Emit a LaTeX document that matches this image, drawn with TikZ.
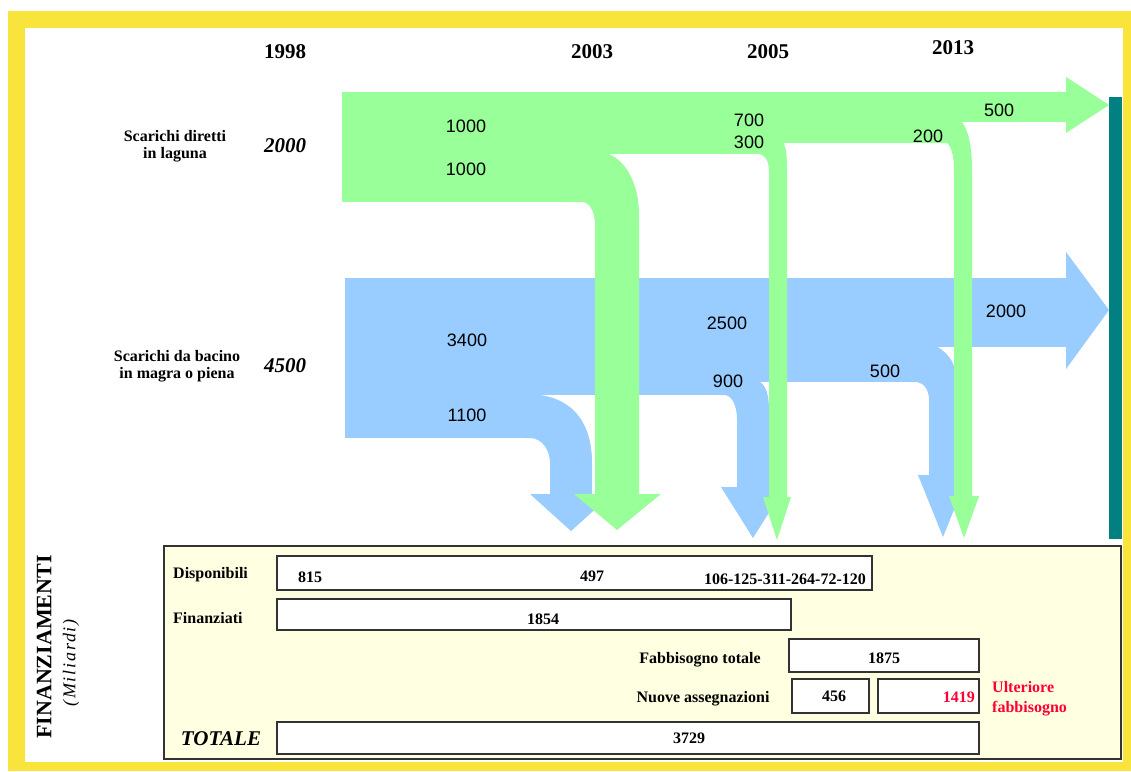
\documentclass[tikz,border=0pt]{standalone}
\usepackage{fontspec}
\setmainfont{Liberation Serif}
\newfontfamily\sansf{Liberation Sans}
\definecolor{frameyellow}{HTML}{F9E43B}
\definecolor{flowgreen}{HTML}{99FF99}
\definecolor{flowblue}{HTML}{99CCFF}
\definecolor{tealbar}{HTML}{008080}
\definecolor{panelbg}{HTML}{FFFFE2}
\definecolor{boxline}{HTML}{333333}
\definecolor{alertred}{HTML}{FF0033}
\begin{document}
\begin{tikzpicture}[x=1pt,y=-1pt,
  num/.style={font=\sansf\fontsize{18}{20}\selectfont, inner sep=0pt},
  yr/.style={font=\bfseries\fontsize{21}{23}\selectfont, inner sep=0pt},
  src/.style={font=\bfseries\fontsize{16}{17}\selectfont, align=center, inner sep=0pt},
  tot/.style={font=\bfseries\itshape\fontsize{21}{23}\selectfont, inner sep=0pt},
  lab/.style={font=\bfseries\fontsize{16}{20}\selectfont, inner sep=0pt},
  val/.style={font=\bfseries\fontsize{16}{18}\selectfont, inner sep=0pt},
  cell/.style={draw=boxline, fill=white, line width=1.2pt},
  gflow/.style={fill=flowgreen},
  bflow/.style={fill=flowblue}]

\useasboundingbox (0,0) rectangle (1131,771);
\fill[white] (0,0) rectangle (1131,771);
\fill[frameyellow] (8,11) rectangle (1131,771);
\fill[white] (25,28) rectangle (1123,762);

% blue flows
\fill[bflow] (345,278) rectangle (1067,347);
\fill[bflow] (1066,252) -- (1109,310) -- (1066,369) -- cycle;
\fill[bflow] (345,278) rectangle (930,382);
\fill[bflow] (345,278) rectangle (740,395);
\fill[bflow] (345,278) rectangle (531,438);
\fill[bflow] (525,395) -- (540,395) .. controls (575,400) and (592,425) .. (592,463) -- (592,494) -- (612,494) -- (571,531) -- (530,494) -- (550,494) -- (550,463) .. controls (550,450) and (542,438) .. (530,438) -- (525,438) -- cycle;
\fill[bflow] (720,382) -- (760,382) .. controls (766,386) and (769,395) .. (769,410) -- (769,487) -- (785,487) -- (753,538) -- (721,487) -- (737,487) -- (737,420) .. controls (737,405) and (732,396) .. (725,395) -- (720,395) -- cycle;
\fill[bflow] (910,347) -- (938,347) .. controls (950,355) and (957,365) .. (957,385) -- (957,475) -- (968,475) -- (943,537) -- (918,475) -- (929,475) -- (929,400) .. controls (929,390) and (924,383) .. (917,382) -- (910,382) -- cycle;

% green flows
\fill[gflow] (342,92) rectangle (1067,122);
\fill[gflow] (1066,77) -- (1109,105) -- (1066,133) -- cycle;
\fill[gflow] (342,92) rectangle (962,143);
\fill[gflow] (342,92) rectangle (784,154);
\fill[gflow] (342,92) rectangle (584,202);
\fill[gflow] (575,154) -- (609,154) .. controls (627,162) and (639,185) .. (639,215) -- (639,494) -- (661,494) -- (617,530) -- (574,494) -- (595,494) -- (595,225) .. controls (595,212) and (590,203) .. (583,202) -- (575,202) -- cycle;
\fill[gflow] (755,143) -- (783,143) .. controls (786,146) and (787,155) .. (787,172) -- (787,497) -- (791,497) -- (777,540) -- (763,497) -- (769,497) -- (769,172) .. controls (769,162) and (766,156) .. (760,154) -- (755,154) -- cycle;
\fill[gflow] (940,122) -- (962,122) .. controls (968,130) and (972,145) .. (972,170) -- (972,496) -- (979,496) -- (964,538) -- (949,496) -- (954,496) -- (954,170) .. controls (954,155) and (951,146) .. (947,143) -- (940,143) -- cycle;

\fill[tealbar] (1109,97) rectangle (1122,539);

% years and sources
\node[yr] (y1998) at (285,52) {1998};
\node[yr] (y2003) at (592,52) {2003};
\node[yr] (y2005) at (768,52) {2005};
\node[yr] (y2013) at (953,48) {2013};
\node[src] (sdir) at (175,146) {Scarichi diretti\\in laguna};
\node[tot] (v2000) at (285,146) {2000};
\node[src] (sbac) at (177,366) {Scarichi da bacino\\in magra o piena};
\node[tot] (v4500) at (285,366) {4500};

% flow values
\node[num] (g1) at (466,126) {1000};
\node[num] (g2) at (466,169) {1000};
\node[num] (g3) at (749,120) {700};
\node[num] (g4) at (749,142) {300};
\node[num] (g5) at (928,136) {200};
\node[num] (g6) at (999,110) {500};
\node[num] (b1) at (467,340) {3400};
\node[num] (b2) at (467,415) {1100};
\node[num] (b3) at (727,323) {2500};
\node[num] (b4) at (728,381) {900};
\node[num] (b5) at (885,371) {500};
\node[num] (b6) at (1006,311) {2000};

% funding panel
\draw[draw=boxline, fill=panelbg, line width=1.2pt] (164,546) rectangle (1121,759);
\draw[cell] (277,556) rectangle (872,590);
\draw[cell] (277,599) rectangle (791,630);
\draw[cell] (789,639) rectangle (979,672);
\draw[cell] (792,679) rectangle (869,713);
\draw[cell] (878,679) rectangle (979,713);
\draw[cell] (277,722) rectangle (979,754);

\node[lab, anchor=west] (disp) at (173,575) {Disponibili};
\node[lab, anchor=west] (fin) at (173,618) {Finanziati};
\node[val] (d1) at (310,577) {815};
\node[val] (d2) at (592,576) {497};
\node[val] (d3) at (785,579) {106-125-311-264-72-120};
\node[val] (f1) at (543,619) {1854};
\node[lab] (fabl) at (700,660) {Fabbisogno totale};
\node[val] (fab) at (884,658) {1875};
\node[lab] (nuol) at (703,699) {Nuove assegnazioni};
\node[val] (nuo) at (834,696) {456};
\node[val, text=alertred, anchor=east] (ult) at (975,697) {1419};
\node[lab, text=alertred, align=left, anchor=west] (ultl) at (992,699) {Ulteriore\\fabbisogno};
\node[tot] (totl) at (221,739) {TOTALE};
\node[val] (tot) at (689,738) {3729};
\node[rotate=90, font=\bfseries\fontsize{22}{24}\selectfont] (finz) at (44,647) {FINANZIAMENTI};
\node[rotate=90, font=\itshape\fontsize{18}{20}\selectfont\addfontfeature{LetterSpace=10}] (mil) at (71,663) {(Miliardi)};
\end{tikzpicture}
\end{document}
